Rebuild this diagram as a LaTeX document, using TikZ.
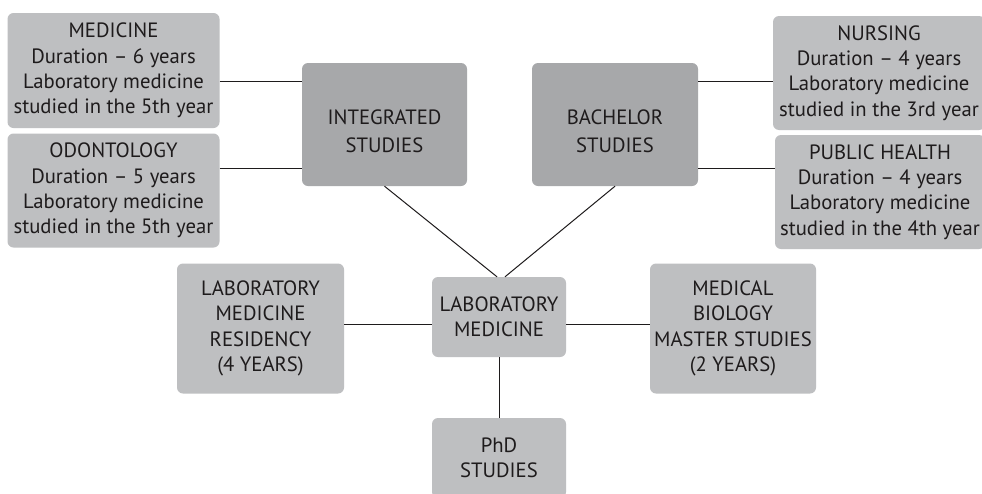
\documentclass[tikz,border=0pt]{standalone}
\usepackage{fontspec}
\setmainfont{PT Sans}
\definecolor{boxlight}{HTML}{BEBFC1}
\definecolor{boxdark}{HTML}{A7A8AA}
\definecolor{ink}{HTML}{1E1B1C}
\begin{document}
\begin{tikzpicture}[x=1pt,y=-1pt,
  txtfont/.style={font=\fontsize{20.7}{25.3}\selectfont},
  box/.style={fill=boxlight, rounded corners=6pt, inner sep=0pt, align=center, text=ink, txtfont},
  bigbox/.style={box, fill=boxdark},
  bigtxt/.style={align=center, text=ink, inner sep=0pt, font=\fontsize{20.7}{27.5}\selectfont},
  link/.style={draw=ink, line width=1pt}]
\useasboundingbox (0,0) rectangle (982,493);
\fill[white] (0,0) rectangle (982,493);
\clip (0,0) rectangle (982,493);

% left programme boxes
\node[box, minimum width=212pt, minimum height=115pt] (med) at (113.5,70.5)
  {MEDICINE\\Duration – 6 years\\Laboratory medicine\\studied in the 5th year};
\node[box, minimum width=212pt, minimum height=114pt] (odo) at (113.5,190.5)
  {ODONTOLOGY\\Duration – 5 years\\Laboratory medicine\\studied in the 5th year};

% right programme boxes
\node[box, minimum width=212pt, minimum height=114pt] (nurs) at (879,73)
  {NURSING\\Duration – 4 years\\Laboratory medicine\\studied in the 3rd year};
\node[box, minimum width=210pt, minimum height=114pt] (pub) at (880,192)
  {PUBLIC HEALTH\\Duration – 4 years\\Laboratory medicine\\studied in the 4th year};

% study types
\node[bigbox, minimum width=165pt, minimum height=123pt] (int) at (384.5,124.5) {};
\node[bigtxt] (intt) at ([yshift=-7pt]int.center) {INTEGRATED\\STUDIES};
\node[bigbox, minimum width=166pt, minimum height=123pt] (bach) at (615,124.5) {};
\node[bigtxt] (bacht) at ([yshift=-7pt]bach.center) {BACHELOR\\STUDIES};

% centre and lower row
\node[box, minimum width=134pt, minimum height=80pt] (lab) at (499,317)
  {LABORATORY\\MEDICINE};
\node[box, minimum width=167pt, minimum height=130pt] (lres) at (260.5,328.5)
  {LABORATORY\\MEDICINE\\RESIDENCY\\(4 YEARS)};
\node[box, minimum width=166pt, minimum height=130pt] (mbio) at (733,328.5)
  {MEDICAL\\BIOLOGY\\MASTER STUDIES\\(2 YEARS)};
\node[box, minimum width=134pt, minimum height=80pt] (phd) at (499,458)
  {PhD\\STUDIES};

% connectors
\draw[link] ([yshift=-10.5pt]med.east) -- ([yshift=43.5pt]int.west);
\draw[link] ([yshift=22.5pt]odo.east) -- ([yshift=-43.5pt]int.west);
\draw[link] ([yshift=43.5pt]bach.east) -- ([yshift=-8pt]nurs.west);
\draw[link] ([yshift=-43.5pt]bach.east) -- ([yshift=24pt]pub.west);
\draw[link] (int.south) -- ([xshift=-2pt]lab.north);
\draw[link] (bach.south) -- ([xshift=6pt]lab.north);
\draw[link] ([yshift=4.5pt]lres.east) -- ([yshift=-7pt]lab.west);
\draw[link] ([yshift=-7pt]lab.east) -- ([yshift=4.5pt]mbio.west);
\draw[link] (lab.south) -- (phd.north);
\end{tikzpicture}
\end{document}
